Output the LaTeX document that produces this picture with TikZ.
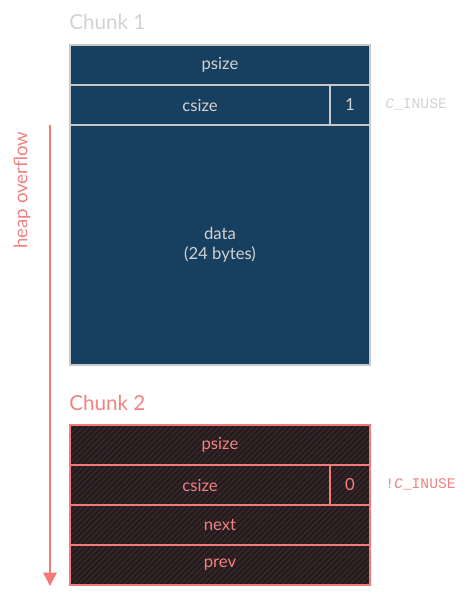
\documentclass[tikz,border=0pt]{standalone}
\usepackage{fontspec}
\setmainfont{Lato}
\setmonofont{Liberation Mono}
\usetikzlibrary{patterns.meta,arrows.meta}
\definecolor{cafill}{HTML}{173F5F}
\definecolor{caborder}{HTML}{C8C8C8}
\definecolor{catext}{HTML}{D2D2D2}
\definecolor{cbbase}{HTML}{211C1E}
\definecolor{cbline}{HTML}{45292C}
\definecolor{cbborder}{HTML}{F47A7A}
\definecolor{cbtext}{HTML}{F08282}
\tikzset{
  cellA/.style={draw=caborder, fill=cafill, text=catext, line width=1.1pt, inner sep=0pt, font=\fontsize{12.5}{15}\selectfont},
  cellB/.style={draw=cbborder, text=cbtext, line width=1.1pt, inner sep=0pt, font=\fontsize{12.5}{15}\selectfont,
    preaction={fill=cbbase}, pattern={Lines[angle=45,distance=3pt,line width=0.8pt]}, pattern color=cbline},
  title/.style={anchor=west, inner sep=0pt, font=\fontsize{15.5}{18}\selectfont},
  flag/.style={anchor=west, inner sep=0pt, font=\ttfamily\fontsize{11}{13}\selectfont},
}
\begin{document}
\begin{tikzpicture}[x=0.75pt,y=-0.75pt]
\useasboundingbox (0,0) rectangle (465,595);
% Chunk 1
\node[title, text=catext] (t1) at (69,22) {Chunk 1};
\node[cellA, minimum width=225pt, minimum height=30pt] (apsize) at (220,65) {psize};
\node[cellA, minimum width=195pt, minimum height=30pt] (acsize) at (200,105) {csize};
\node[cellA, minimum width=30pt, minimum height=30pt] (abit) at (350,105) {1};
\node[cellA, minimum width=225pt, minimum height=180pt, align=center] (adata) at (220,245) {data\\(24 bytes)};
\node[flag, text=catext] (aflag) at (385,104) {{\itshape C}\_INUSE};
% Chunk 2
\node[title, text=cbtext] (t2) at (69,403) {Chunk 2};
\node[cellB, minimum width=225pt, minimum height=30pt] (bpsize) at (220,445) {psize};
\node[cellB, minimum width=195pt, minimum height=30pt] (bcsize) at (200,485) {csize};
\node[cellB, minimum width=30pt, minimum height=30pt] (bbit) at (350,485) {0};
\node[cellB, minimum width=225pt, minimum height=30pt] (bnext) at (220,525) {next};
\node[cellB, minimum width=225pt, minimum height=30pt] (bprev) at (220,565) {prev};
\node[flag, text=cbtext] (bflag) at (385,484) {!{\itshape C}\_INUSE};
% overflow arrow
\coordinate (ovtop) at (50,125);
\coordinate (ovbot) at (50,586);
\draw[cbborder, line width=1.1pt, -{Triangle[length=10pt,width=10pt]}] (ovtop) -- (ovbot);
\node[rotate=90, text=cbtext, inner sep=0pt, font=\fontsize{14}{16}\selectfont] (ovlabel) at (22,190) {heap overflow};
\end{tikzpicture}
\end{document}
